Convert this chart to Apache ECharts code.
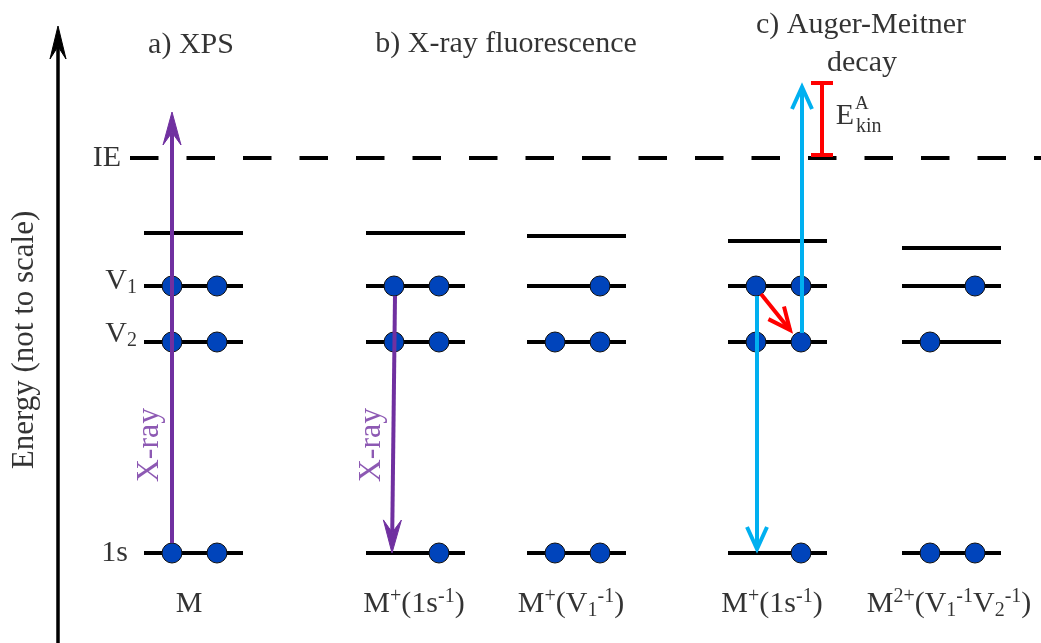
<!DOCTYPE html>
<html><head><meta charset="utf-8">
<script src="https://cdn.jsdelivr.net/npm/echarts@6/dist/echarts.min.js"></script>
<style>html,body{margin:0;padding:0;background:#fff}#c{width:1041px;height:643px}</style>
</head><body><div id="c"></div>
<script>
// ---------------- data (diagram units: x across, E = energy, not to scale) ----------------
const stateNames = ['M', 'M+(1s-1)', 'M+(V1-1)', 'M+(1s-1)', 'M2+(V1-1 V2-1)'];
const stateLabels = [
  '{b|M}',
  '{b|M}{sup|+}{b|(1s}{sup|-1}{b|)}',
  '{b|M}{sup|+}{b|(V}{sub|1}{sup|-1}{b|)}',
  '{b|M}{sup|+}{b|(1s}{sup|-1}{b|)}',
  '{b|M}{sup|2+}{b|(V}{sub|1}{sup|-1}{b|V}{sub|2}{sup|-1}{b|)}'
];
const stateLeft = [144, 366, 527, 728, 902];
const levelNames = ['1s', 'V2', 'V1'];
const levelEnergy = [90, 301, 357];
const upperEnergy = [410, 410, 407, 402, 395];
const ionizationEnergy = 485;
// occupancy[state][level(1s,V2,V1)] = [left slot, right slot]
const occupancy = [
  [[1, 1], [1, 1], [1, 1]],
  [[0, 1], [1, 1], [1, 1]],
  [[1, 1], [1, 1], [0, 1]],
  [[0, 1], [1, 1], [1, 1]],
  [[1, 1], [1, 0], [0, 1]]
];
const panelTitles = ['a) XPS', 'b) X-ray fluorescence', 'c) Auger-Meitner', 'decay'];
// transitions [x1, E1, x2, E2]
const xrayArrows = [[172, 100, 172, 531], [395, 347, 392, 90]];
const augerArrows = [[757, 347, 757, 94], [802, 310, 802, 556]];
const relaxArrows = [[761, 349, 790, 313]];
const kineticBar = [[822, 488, 560]];
const energyAxis = [[58, 0, 58, 617]];

// ---------------- layout / style ----------------
const levelWidth = 99;
const slotOffset = [28, 73];
const FONT = 'Liberation Serif';
const PURPLE = '#7030a0', CYAN = '#00b0f0', RED = '#ff0000', BLUE = '#0044bb';

const levelSegments = [];
stateLeft.forEach((x0, s) => {
  levelEnergy.forEach(E => levelSegments.push([x0, x0 + levelWidth, E]));
  levelSegments.push([x0, x0 + levelWidth, upperEnergy[s]]);
});
const electrons = [];
occupancy.forEach((lv, s) => lv.forEach((slots, l) => slots.forEach((occ, k) => {
  if (occ) electrons.push([stateLeft[s] + slotOffset[k], levelEnergy[l]]);
})));

function arrowRenderer(kind, color, width, hl, hw) {
  return function (params, api) {
    const p1 = api.coord([api.value(0), api.value(1)]);
    const p2 = api.coord([api.value(2), api.value(3)]);
    const dx = p2[0] - p1[0], dy = p2[1] - p1[1];
    const L = Math.hypot(dx, dy), ux = dx / L, uy = dy / L, nx = -uy, ny = ux;
    if (kind === 'stealth') {
      const notch = hl * 0.62;
      const bx = p2[0] - ux * hl, by = p2[1] - uy * hl;
      const nb = [p2[0] - ux * notch, p2[1] - uy * notch];
      return { type: 'group', children: [
        { type: 'line', shape: { x1: p1[0], y1: p1[1], x2: nb[0], y2: nb[1] }, style: { stroke: color, lineWidth: width } },
        { type: 'polygon', shape: { points: [p2, [bx + nx * hw, by + ny * hw], nb, [bx - nx * hw, by - ny * hw]] },
          style: { fill: color, stroke: color, lineWidth: 1, lineJoin: 'miter' } }
      ] };
    }
    const bx = p2[0] - ux * hl, by = p2[1] - uy * hl;
    return { type: 'group', children: [
      { type: 'line', shape: { x1: p1[0], y1: p1[1], x2: p2[0], y2: p2[1] }, style: { stroke: color, lineWidth: width } },
      { type: 'polyline', shape: { points: [[bx + nx * hw, by + ny * hw], p2, [bx - nx * hw, by - ny * hw]] },
        style: { stroke: color, lineWidth: width, fill: null, lineJoin: 'miter', lineCap: 'butt' } }
    ] };
  };
}
function arrowSeries(data, kind, color, width, hl, hw, z) {
  return { type: 'custom', data: data, z: z, silent: true, clip: false, encode: { x: [0, 2], y: [1, 3] },
    renderItem: arrowRenderer(kind, color, width, hl, hw) };
}

function txt(x, E, formatter, extra) {
  return { value: [x, E], label: Object.assign({ formatter: formatter, align: 'center', verticalAlign: 'middle' }, extra || {}) };
}
const textData = [
  txt(191, 598, panelTitles[0]),
  txt(506, 599, panelTitles[1]),
  txt(861, 618, panelTitles[2]),
  txt(862, 580, panelTitles[3]),
  txt(121, ionizationEnergy, 'IE', { align: 'right' }),
  txt(137, 362, '{b|V}{sub|1}', { align: 'right' }),
  txt(137, 309, '{b|V}{sub|2}', { align: 'right' }),
  txt(128, 90, levelNames[0], { align: 'right' }),
  txt(150, 198, 'X-ray', { rotate: 90, color: PURPLE, fontSize: 32 }),
  txt(372, 198, 'X-ray', { rotate: 90, color: PURPLE, fontSize: 32 }),
  txt(25, 303, 'Energy (not to scale)', { rotate: 90, fontSize: 31 }),
  txt(845, 527, 'E', { fontSize: 30 }),
  txt(855, 539, 'A', { align: 'left', fontSize: 19 }),
  txt(856, 516, 'kin', { align: 'left', fontSize: 20 })
];
const stateCenters = [189, 414, 571, 772, 949];
stateLabels.forEach((s, i) => textData.push(txt(stateCenters[i], 39, s)));

const chart = echarts.init(document.getElementById('c'), null, { renderer: 'canvas' });
chart.setOption({
  animation: false,
  backgroundColor: '#ffffff',
  grid: { left: 0, right: 0, top: 0, bottom: 0 },
  xAxis: { type: 'value', min: 0, max: 1041, show: false },
  yAxis: { type: 'value', min: 0, max: 643, show: false },
  series: [
    { type: 'line', z: 2, silent: true, symbol: 'none', data: [[130, ionizationEnergy], [1041, ionizationEnergy]],
      lineStyle: { color: '#000', width: 4, type: [28.5, 28] } },
    { type: 'custom', z: 2, silent: true, clip: false, data: levelSegments, encode: { x: [0, 1], y: 2 },
      renderItem: function (params, api) {
        const a = api.coord([api.value(0), api.value(2)]);
        const b = api.coord([api.value(1), api.value(2)]);
        return { type: 'line', shape: { x1: a[0], y1: a[1], x2: b[0], y2: b[1] }, style: { stroke: '#000', lineWidth: 4 } };
      } },
    { type: 'scatter', z: 3, silent: true, data: electrons, symbol: 'circle', symbolSize: 20,
      itemStyle: { color: BLUE, borderColor: '#111', borderWidth: 1, opacity: 1 } },
    arrowSeries(energyAxis, 'stealth', '#000', 3.5, 33, 8, 4),
    arrowSeries(xrayArrows, 'stealth', PURPLE, 4, 33, 9, 4),
    arrowSeries(augerArrows, 'open', CYAN, 4, 22, 10, 4),
    arrowSeries(relaxArrows, 'open', RED, 4, 22, 10, 4),
    { type: 'custom', z: 4, silent: true, clip: false, data: kineticBar, encode: { x: 0, y: [1, 2] },
      renderItem: function (params, api) {
        const a = api.coord([api.value(0), api.value(1)]);
        const b = api.coord([api.value(0), api.value(2)]);
        const s = { stroke: RED, lineWidth: 4 };
        return { type: 'group', children: [
          { type: 'line', shape: { x1: a[0], y1: a[1], x2: b[0], y2: b[1] }, style: s },
          { type: 'line', shape: { x1: a[0] - 11, y1: a[1], x2: a[0] + 11, y2: a[1] }, style: s },
          { type: 'line', shape: { x1: b[0] - 11, y1: b[1], x2: b[0] + 11, y2: b[1] }, style: s }
        ] };
      } },
    { type: 'scatter', z: 5, silent: true, data: textData, symbolSize: 1,
      itemStyle: { color: 'rgba(0,0,0,0)' },
      label: { show: true, position: 'inside', color: '#000', fontFamily: FONT, fontSize: 30,
        rich: {
          b: { fontFamily: FONT, fontSize: 30, lineHeight: 34, color: '#000' },
          sup: { fontFamily: FONT, fontSize: 20, lineHeight: 27, verticalAlign: 'top', color: '#000' },
          sub: { fontFamily: FONT, fontSize: 20, lineHeight: 17, verticalAlign: 'bottom', color: '#000' }
        } } }
  ]
});
</script></body></html>
